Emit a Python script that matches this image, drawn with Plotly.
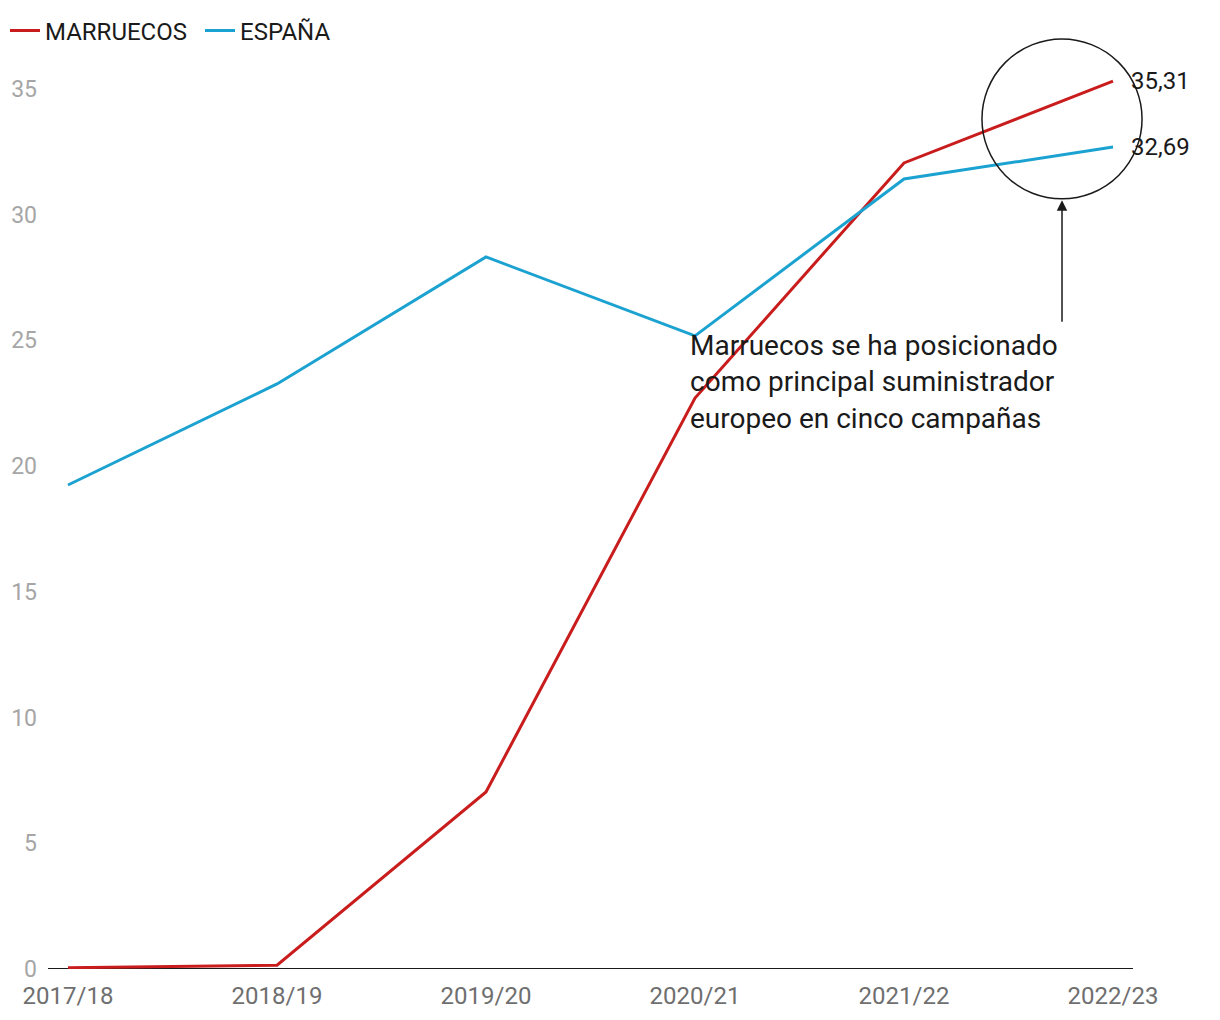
import plotly.graph_objects as go

campaigns = ["2017/18", "2018/19", "2019/20", "2020/21", "2021/22", "2022/23"]
marruecos = [0.05, 0.15, 7.04, 22.71, 32.06, 35.31]
espana = [19.25, 23.27, 28.32, 25.18, 31.42, 32.69]
y_ticks = [0, 5, 10, 15, 20, 25, 30, 35]
note = "Marruecos se ha posicionado<br>como principal suministrador<br>europeo en cinco campañas"

RED = "#c91d1d"
BLUE = "#1ba2d0"
FONT = "Roboto"

xi = list(range(len(campaigns)))
fig = go.Figure()
fig.add_trace(go.Scatter(x=xi, y=marruecos, mode="lines", name="MARRUECOS",
                         line=dict(color=RED, width=3)))
fig.add_trace(go.Scatter(x=xi, y=espana, mode="lines", name="ESPAÑA",
                         line=dict(color=BLUE, width=3)))

# zero baseline
fig.add_shape(type="line", xref="x", yref="y", x0=-0.0957, x1=len(campaigns) - 1 + 0.0957,
              y0=0, y1=0, line=dict(color="#1a1a1a", width=2), layer="below")

# end value labels
for series in (marruecos, espana):
    fig.add_annotation(x=xi[-1], y=series[-1], text=f"{series[-1]:.2f}".replace(".", ","),
                       showarrow=False, xanchor="left", yanchor="middle", xshift=16,
                       font=dict(family=FONT, size=24, color="#1a1a1a"))

# circle highlight
fig.add_shape(type="circle", xref="x", yref="y", x0=4.373, x1=5.139, y0=30.63, y1=36.99,
              line=dict(color="#1a1a1a", width=1.5))

# arrow
fig.add_annotation(x=4.756, y=30.58, ax=0, ay=123, text="", showarrow=True,
                   arrowhead=2, arrowsize=1.4, arrowwidth=1.5, arrowcolor="#1a1a1a", standoff=0)

# note text
fig.add_annotation(x=2.976, y=23.35, text=note, showarrow=False, xanchor="left",
                   yanchor="middle", align="left", xshift=-2,
                   font=dict(family=FONT, size=28, color="#1a1a1a"))

fig.update_layout(
    width=1220, height=1020,
    margin=dict(l=48, r=20, t=30, b=51, autoexpand=False),
    paper_bgcolor="white", plot_bgcolor="white",
    font=dict(family=FONT),
    showlegend=True,
    legend=dict(orientation="h", x=5 / 1220, xref="container", xanchor="left",
                y=1 - 31 / 1020, yref="container", yanchor="middle",
                font=dict(family=FONT, size=24, color="#1a1a1a"),
                itemwidth=30, tracegroupgap=0, entrywidth=150),
    xaxis=dict(range=[-0.0957, -0.0957 + 1152 / 209], tickmode="array", tickvals=xi,
               ticktext=campaigns, showgrid=False, zeroline=False, showline=False,
               ticks="", ticklabelstandoff=10,
               tickfont=dict(family=FONT, size=24, color="#6f6f6f")),
    yaxis=dict(range=[0, 939 / 25.143], tickmode="array", tickvals=y_ticks,
               showgrid=False, zeroline=False, showline=False, ticks="",
               ticklabelstandoff=10,
               tickfont=dict(family=FONT, size=23, color="#a6a6a6")),
)

fig.write_html("out.html")
